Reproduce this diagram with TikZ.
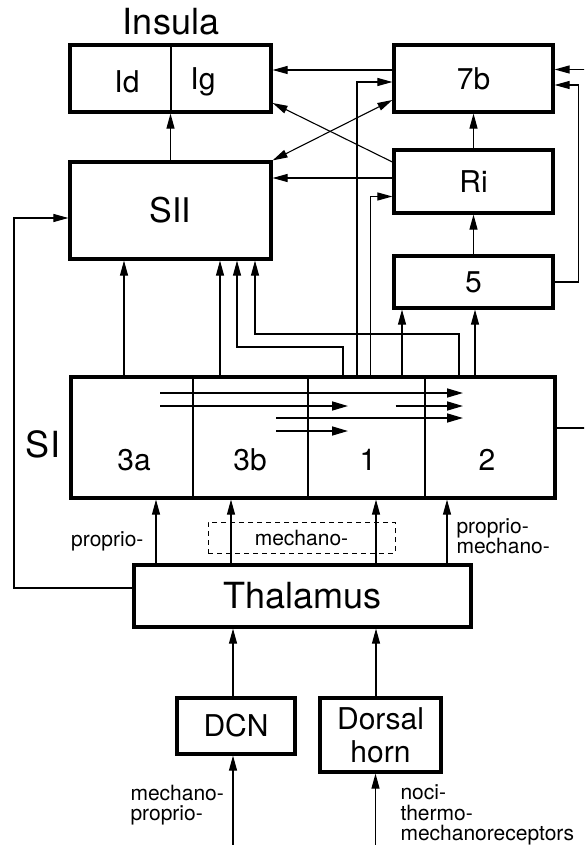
\documentclass[tikz,border=0pt]{standalone}
\usepackage{fontspec}
\setmainfont{TeX Gyre Heros}
\usetikzlibrary{arrows.meta}

\tikzset{
  areabox/.style={draw,line width=3.2pt,inner sep=0pt,font=\fontsize{30}{33}\selectfont},
  bigtext/.style={font=\fontsize{36}{40}\selectfont},
  midtext/.style={font=\fontsize{30}{33}\selectfont},
  smalltext/.style={font=\fontsize{21}{20.5}\selectfont,align=left},
  proj/.style={-{Triangle[length=15pt,width=8pt]},line width=1.1pt},
  biproj/.style={{Triangle[length=15pt,width=8pt]}-{Triangle[length=15pt,width=8pt]},line width=1.1pt},
  siproj/.style={-{Triangle[length=16pt,width=9pt]},line width=1.6pt},
}

\begin{document}
\begin{tikzpicture}[x=1pt,y=-1pt]
  \useasboundingbox (0,0) rectangle (584,845);
  \clip (0,0) rectangle (584,845);

  \node[areabox,minimum width=201pt,minimum height=67pt] (ins) at (170.5,78.5) {};
  \draw[line width=2pt] (ins.north) -- (ins.south);
  \node[midtext] (ld) at (127,82) {Id};
  \node[midtext] (lg) at (203,82) {Ig};
  \node[bigtext] (inslab) at (171,22) {Insula};

  \node[areabox,minimum width=201pt,minimum height=97pt,font=\fontsize{34}{38}\selectfont] (sii) at (170.5,210.5) {SII};
  \node[areabox,minimum width=159pt,minimum height=67pt] (b7) at (473.5,78.5) {7b};
  \node[areabox,minimum width=159pt,minimum height=63pt] (ri) at (473.5,181.5) {Ri};
  \node[areabox,minimum width=159pt,minimum height=52pt] (five) at (473.5,282) {5};

  \node[areabox,minimum width=484pt,minimum height=121pt] (si) at (313,437.5) {};
  \foreach \x in {193,308,425}
    \draw[line width=2pt] (\x,0 |- si.north) -- (\x,0 |- si.south);
  \foreach \x/\lab in {134/3a,250/3b,368/1,487/2}
    \node[midtext] (f\lab) at (\x,460) {\lab};
  \node[bigtext] (silab) at (43,444) {SI};

  \node[areabox,minimum width=337pt,minimum height=62pt,font=\fontsize{36}{40}\selectfont] (thal) at (302.5,596) {Thalamus};
  \node[areabox,minimum width=118pt,minimum height=56pt] (dcn) at (236,726) {DCN};
  \node[areabox,minimum width=121pt,minimum height=74pt,align=center] (dh) at (380.5,735) {Dorsal\\horn};

  \node[draw,line width=1pt,dash pattern=on 5pt off 4pt,minimum width=187pt,minimum height=31pt,inner sep=0pt,smalltext] (mech) at (301.5,537.5) {mechano-};
  \node[smalltext,anchor=east] (prop) at (147,541) {proprio-};
  \node[smalltext,anchor=west] (pm) at (453,536) {proprio-\\mechano-};
  \node[smalltext,anchor=west] (mp) at (127,805) {mechano-\\proprio-};
  \node[smalltext,anchor=west] (ntm) at (397,815) {noci-\\thermo-\\mechanoreceptors};

  \draw[proj] (sii.north) -- (ins.south);
  \draw[proj] ([yshift=8.5pt]b7.west) -- ([yshift=8.5pt]ins.east);
  \draw[proj] ([yshift=19.5pt]ri.west) -- ([yshift=-24.5pt]ins.east);
  \draw[biproj] (sii.north east) -- ([yshift=-21.5pt]b7.west);
  \draw[proj] ([yshift=3.5pt]ri.west) -- ([yshift=32.5pt]sii.east);
  \draw[proj] (ri.north) -- (b7.south);
  \draw[proj] (five.north) -- (ri.south);
  \draw[proj] (five.east) -| ([xshift=23.5pt,yshift=-6.5pt]b7.east) -- ([yshift=-6.5pt]b7.east);
  \draw[proj] ([yshift=9.5pt]si.east) -- ++(40,0) |- ([yshift=9pt]b7.east);

  \foreach \x in {124,220}
    \draw[proj] (\x,0 |- si.north) -- (\x,0 |- sii.south);
  \draw[proj] (343,0 |- si.north) -- (343,347) -| (237,0 |- sii.south);
  \draw[proj] (459,0 |- si.north) -- (459,334) -| (255,0 |- sii.south);
  \draw[proj] (357,0 |- si.north) |- ([yshift=-3.5pt]b7.west);
  \draw[proj] (370.5,0 |- si.north) |- ([yshift=-15pt]ri.west);
  \foreach \x in {402,475}
    \draw[proj] (\x,0 |- si.north) -- (\x,0 |- five.south);

  \foreach \y/\a/\b in {393/160/463,406/160/348,406/395.5/463,418/276/463,431/276/348}
    \draw[siproj] (\a,\y) -- (\b,\y);

  \foreach \x in {156,231,376,447}
    \draw[proj] (\x,0 |- thal.north) -- (\x,0 |- si.south);
  \draw[proj] ([yshift=8pt]thal.west) -| (14,218) -- ([yshift=-7.5pt]sii.west);

  \draw[proj] (233,0 |- dcn.north) -- (233,0 |- thal.south);
  \draw[proj] (376,0 |- dh.north) -- (376,0 |- thal.south);
  \coordinate (inmech) at (233,845);
  \coordinate (innoci) at (375.5,845);
  \draw[proj] (inmech) -- (inmech |- dcn.south);
  \draw[proj] (innoci) -- (innoci |- dh.south);
\end{tikzpicture}
\end{document}
